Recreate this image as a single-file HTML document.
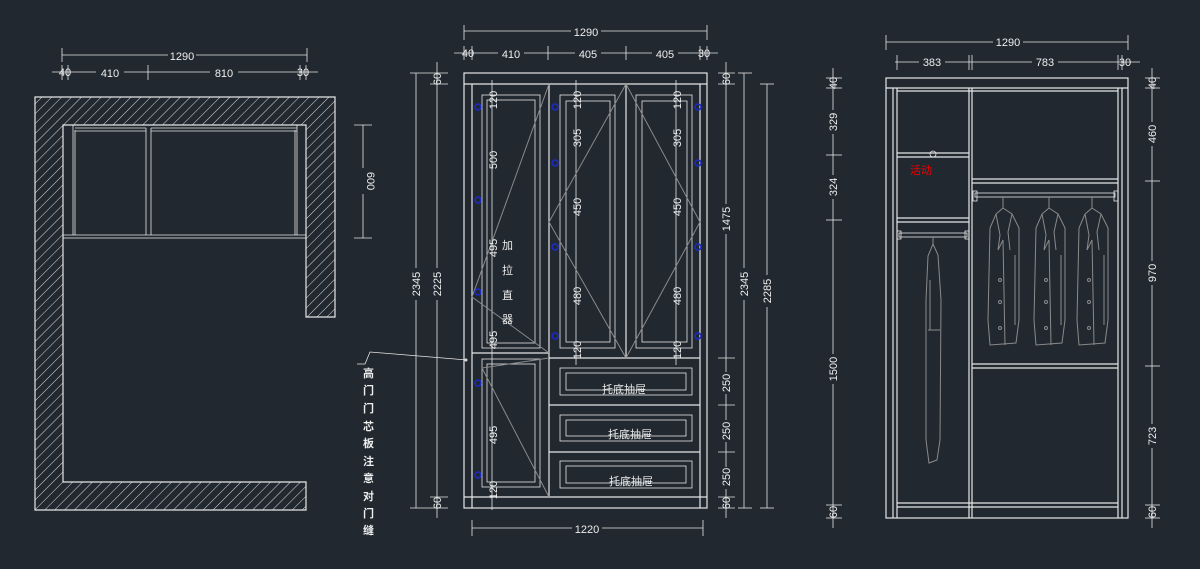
<!DOCTYPE html>
<html><head><meta charset="utf-8"><style>
html,body{margin:0;padding:0;background:#212830;}
svg{display:block}
text{font-family:"Liberation Sans","Noto Sans CJK SC",sans-serif;fill:#eee;font-size:11px}
.l{stroke:#e6e6e6;stroke-width:1.2;fill:none}
.t{stroke:#e6e6e6;stroke-width:0.8;fill:none}
.g{stroke:#8a8a8a;stroke-width:1;fill:none}
.b{stroke:#1a2bd0;stroke-width:1.5;fill:none}
</style></head><body>
<svg width="1200" height="569" viewBox="0 0 1200 569" xmlns="http://www.w3.org/2000/svg">
<defs>
<pattern id="h" width="7" height="7" patternUnits="userSpaceOnUse" patternTransform="rotate(45)">
<line x1="0" y1="0" x2="0" y2="7" stroke="#ddd" stroke-width="1"/></pattern>
</defs>
<rect width="1200" height="569" fill="#212830"/>

<!-- ===== LEFT PLAN ===== -->
<path d="M35 97H335V317H306V125H63V482H306V510H35Z" style="fill:url(#h);stroke:#e6e6e6;stroke-width:1.2"/>
<g class="t">
<rect x="63" y="125" width="243" height="113"/>
<line x1="63" y1="235" x2="306" y2="235"/>
<line x1="73" y1="125" x2="73" y2="235"/><line x1="75" y1="130" x2="75" y2="235"/>
<line x1="146" y1="128" x2="146" y2="235"/><line x1="151" y1="128" x2="151" y2="235"/>
<line x1="297" y1="125" x2="297" y2="235"/><line x1="295" y1="130" x2="295" y2="235"/>
<line x1="75" y1="128" x2="146" y2="128"/><line x1="75" y1="131" x2="146" y2="131"/>
<line x1="151" y1="128" x2="297" y2="128"/><line x1="151" y1="131" x2="297" y2="131"/>
</g>
<g class="t">
<line x1="62" y1="55" x2="307" y2="55"/><line x1="62" y1="48" x2="62" y2="62"/><line x1="307" y1="48" x2="307" y2="62"/>
<line x1="52" y1="72" x2="318" y2="72"/>
<line x1="62" y1="65" x2="62" y2="80"/><line x1="68" y1="65" x2="68" y2="80"/><line x1="148" y1="65" x2="148" y2="80"/>
<line x1="300" y1="65" x2="300" y2="80"/><line x1="306" y1="65" x2="306" y2="80"/>
<line x1="363" y1="125" x2="363" y2="238"/><line x1="354" y1="125" x2="372" y2="125"/><line x1="354" y1="238" x2="372" y2="238"/>
</g>
<g font-size="13">
<rect x="168" y="48" width="28" height="14" fill="#212830"/><text x="182" y="60" text-anchor="middle" font-size="13">1290</text>
<rect x="96" y="65" width="28" height="14" fill="#212830"/><text x="110" y="77" text-anchor="middle" font-size="13">410</text>
<rect x="210" y="65" width="28" height="14" fill="#212830"/><text x="224" y="77" text-anchor="middle" font-size="13">810</text>
</g>
<text x="65" y="76" text-anchor="middle" font-size="9">40</text><text x="303" y="76" text-anchor="middle" font-size="9">30</text>
<rect x="356" y="168" width="14" height="26" fill="#212830"/><text transform="translate(367,181) rotate(90)" text-anchor="middle" font-size="12">600</text>

<!-- leader -->
<polyline class="t" points="467,360 370,352 365,364 357,364"/>
<circle cx="466" cy="360" r="1.5" fill="#ddd"/>
<g font-size="11" font-weight="bold">
<text x="363" y="377">高</text><text x="363" y="394">门</text><text x="363" y="412">门</text><text x="363" y="430">芯</text><text x="363" y="447">板</text><text x="363" y="465">注</text><text x="363" y="482">意</text><text x="363" y="500">对</text><text x="363" y="517">门</text><text x="363" y="534">缝</text>
</g>

<!-- ===== MIDDLE ELEVATION ===== -->
<g class="l">
<rect x="464" y="73" width="243" height="435"/>
<line x1="464" y1="84" x2="707" y2="84"/>
<line x1="472" y1="84" x2="472" y2="508"/><line x1="700" y1="84" x2="700" y2="508"/>
<line x1="464" y1="497" x2="707" y2="497"/>
<line x1="549" y1="84" x2="549" y2="497"/>
<line x1="626" y1="84" x2="626" y2="358"/>
<line x1="472" y1="353" x2="549" y2="353"/>
<line x1="549" y1="358" x2="700" y2="358"/>
<line x1="549" y1="405" x2="700" y2="405"/>
<line x1="549" y1="452" x2="700" y2="452"/>
</g>
<g class="t">
<rect x="482" y="95" width="58" height="253"/><rect x="487" y="100" width="48" height="243"/>
<rect x="482" y="359" width="58" height="128"/><rect x="487" y="364" width="48" height="118"/>
<rect x="560" y="95" width="55" height="253"/><rect x="566" y="101" width="44" height="241"/>
<rect x="636" y="95" width="56" height="253"/><rect x="642" y="101" width="45" height="241"/>
<rect x="560" y="368" width="132" height="27"/><rect x="566" y="373" width="120" height="17"/>
<rect x="560" y="415" width="132" height="26"/><rect x="566" y="420" width="120" height="16"/>
<rect x="560" y="461" width="132" height="27"/><rect x="566" y="466" width="120" height="17"/>
<line x1="492" y1="80" x2="492" y2="510"/><line x1="576" y1="80" x2="576" y2="365"/><line x1="676" y1="80" x2="676" y2="365"/>
</g>
<g class="g">
<polyline points="549,84 472,297 549,353"/>
<polyline points="549,358 482,368 549,497"/>
<polyline points="626,84 549,222 626,358"/>
<polyline points="626,84 700,222 626,358"/>
</g>
<g class="b">
<circle cx="478" cy="107" r="3"/><circle cx="478" cy="200" r="3"/><circle cx="478" cy="292" r="3"/><circle cx="478" cy="383" r="3"/><circle cx="478" cy="475" r="3"/>
<circle cx="555" cy="107" r="3"/><circle cx="555" cy="163" r="3"/><circle cx="555" cy="247" r="3"/><circle cx="555" cy="336" r="3"/>
<circle cx="698" cy="107" r="3"/><circle cx="698" cy="163" r="3"/><circle cx="698" cy="247" r="3"/><circle cx="698" cy="336" r="3"/>
</g>
<g font-size="11">
<text transform="translate(497,100) rotate(-90)" text-anchor="middle">120</text>
<text transform="translate(497,160) rotate(-90)" text-anchor="middle">500</text>
<text transform="translate(497,248) rotate(-90)" text-anchor="middle">495</text>
<text transform="translate(497,340) rotate(-90)" text-anchor="middle">495</text>
<text transform="translate(497,435) rotate(-90)" text-anchor="middle">495</text>
<text transform="translate(497,490) rotate(-90)" text-anchor="middle">120</text>
<text transform="translate(581,100) rotate(-90)" text-anchor="middle">120</text>
<text transform="translate(581,138) rotate(-90)" text-anchor="middle">305</text>
<text transform="translate(581,207) rotate(-90)" text-anchor="middle">450</text>
<text transform="translate(581,296) rotate(-90)" text-anchor="middle">480</text>
<text transform="translate(581,350) rotate(-90)" text-anchor="middle">120</text>
<text transform="translate(681,100) rotate(-90)" text-anchor="middle">120</text>
<text transform="translate(681,138) rotate(-90)" text-anchor="middle">305</text>
<text transform="translate(681,207) rotate(-90)" text-anchor="middle">450</text>
<text transform="translate(681,296) rotate(-90)" text-anchor="middle">480</text>
<text transform="translate(681,350) rotate(-90)" text-anchor="middle">120</text>
</g>
<g font-size="17"><text x="502" y="249">加</text><text x="502" y="274">拉</text><text x="502" y="299">直</text><text x="502" y="323">器</text></g>
<g font-size="16" text-anchor="middle"><text x="624" y="393">托底抽屉</text><text x="630" y="438">托底抽屉</text><text x="631" y="485">托底抽屉</text></g>
<!-- middle dims -->
<g class="t">
<line x1="464" y1="31" x2="707" y2="31"/><line x1="464" y1="25" x2="464" y2="40"/><line x1="707" y1="25" x2="707" y2="40"/>
<line x1="454" y1="53" x2="718" y2="53"/>
<line x1="464" y1="46" x2="464" y2="60"/><line x1="472" y1="46" x2="472" y2="60"/><line x1="548" y1="46" x2="548" y2="60"/><line x1="626" y1="46" x2="626" y2="60"/><line x1="700" y1="46" x2="700" y2="60"/><line x1="707" y1="46" x2="707" y2="60"/>
<line x1="416" y1="73" x2="416" y2="508"/><line x1="410" y1="73" x2="448" y2="73"/><line x1="410" y1="508" x2="448" y2="508"/>
<line x1="437" y1="62" x2="437" y2="518"/><line x1="430" y1="84" x2="448" y2="84"/><line x1="430" y1="497" x2="448" y2="497"/>
<line x1="726" y1="62" x2="726" y2="518"/><line x1="718" y1="73" x2="735" y2="73"/><line x1="718" y1="84" x2="735" y2="84"/><line x1="718" y1="358" x2="735" y2="358"/><line x1="718" y1="405" x2="735" y2="405"/><line x1="718" y1="452" x2="735" y2="452"/><line x1="718" y1="497" x2="735" y2="497"/><line x1="718" y1="508" x2="735" y2="508"/>
<line x1="744" y1="73" x2="744" y2="508"/><line x1="738" y1="73" x2="752" y2="73"/><line x1="738" y1="508" x2="752" y2="508"/>
<line x1="767" y1="84" x2="767" y2="508"/><line x1="760" y1="84" x2="774" y2="84"/><line x1="760" y1="508" x2="774" y2="508"/>
<line x1="472" y1="528" x2="703" y2="528"/><line x1="472" y1="520" x2="472" y2="536"/><line x1="703" y1="520" x2="703" y2="536"/>
</g>
<g text-anchor="middle" font-size="12">
<rect x="571" y="25" width="30" height="13" fill="#212830"/><text x="586" y="36">1290</text>
<rect x="498" y="47" width="26" height="13" fill="#212830"/><text x="511" y="58">410</text>
<rect x="575" y="47" width="26" height="13" fill="#212830"/><text x="588" y="58">405</text>
<rect x="652" y="47" width="26" height="13" fill="#212830"/><text x="665" y="58">405</text>
<text x="468" y="57" font-size="9">40</text><text x="704" y="57" font-size="9">30</text>
<rect x="572" y="522" width="30" height="13" fill="#212830"/><text x="587" y="533">1220</text>
<rect x="409" y="268" width="14" height="32" fill="#212830"/><text transform="translate(420,284) rotate(-90)">2345</text>
<rect x="430" y="268" width="14" height="32" fill="#212830"/><text transform="translate(441,284) rotate(-90)">2225</text>
<text transform="translate(441,79) rotate(-90)" font-size="9">60</text><text transform="translate(441,503) rotate(-90)" font-size="9">60</text>
<rect x="719" y="204" width="14" height="30" fill="#212830"/><text transform="translate(730,219) rotate(-90)">1475</text>
<rect x="719" y="372" width="14" height="22" fill="#212830"/><text transform="translate(730,383) rotate(-90)">250</text>
<rect x="719" y="420" width="14" height="22" fill="#212830"/><text transform="translate(730,431) rotate(-90)">250</text>
<rect x="719" y="467" width="14" height="22" fill="#212830"/><text transform="translate(730,477) rotate(-90)">250</text>
<text transform="translate(730,79) rotate(-90)" font-size="9">60</text><text transform="translate(730,503) rotate(-90)" font-size="9">60</text>
<rect x="737" y="268" width="14" height="32" fill="#212830"/><text transform="translate(748,284) rotate(-90)">2345</text>
<rect x="760" y="275" width="14" height="32" fill="#212830"/><text transform="translate(771,291) rotate(-90)">2285</text>
</g>

<!-- ===== RIGHT ELEVATION ===== -->
<g class="l">
<rect x="886" y="78" width="242" height="440"/>
<line x1="886" y1="88" x2="1128" y2="88"/>
<line x1="893" y1="88" x2="893" y2="518"/><line x1="897" y1="88" x2="897" y2="518"/>
<line x1="1118" y1="88" x2="1118" y2="518"/><line x1="1122" y1="88" x2="1122" y2="518"/>
<line x1="969" y1="88" x2="969" y2="518"/><line x1="972" y1="88" x2="972" y2="518"/>
<line x1="897" y1="91" x2="1118" y2="91"/>
<line x1="897" y1="153" x2="969" y2="153"/><line x1="897" y1="157" x2="969" y2="157"/>
<line x1="897" y1="218" x2="969" y2="218"/><line x1="897" y1="222" x2="969" y2="222"/>
<line x1="972" y1="179" x2="1118" y2="179"/><line x1="972" y1="183" x2="1118" y2="183"/>
<line x1="972" y1="364" x2="1118" y2="364"/><line x1="972" y1="368" x2="1118" y2="368"/>
<line x1="897" y1="503" x2="1118" y2="503"/><line x1="897" y1="507" x2="1118" y2="507"/>
</g>
<g class="t">
<rect x="899" y="233" width="68" height="4"/><rect x="897" y="231" width="4" height="8"/><rect x="965" y="231" width="4" height="8"/>
<rect x="975" y="193" width="140" height="4"/><rect x="973" y="191" width="4" height="10"/><rect x="1114" y="191" width="4" height="10"/>
<circle cx="933" cy="154" r="3"/>
</g>
<text x="910" y="174" style="fill:#e00" font-size="12">活动</text>
<g class="g">
<path d="M933 237 L933 244 L928 256 L926 300 L926 440 L929 463 L937 460 L940 440 L941 300 L938 255 L933 244"/>
<line x1="928" y1="330" x2="940" y2="330"/><line x1="930" y1="280" x2="930" y2="330"/>
<g id="coat"><path d="M1003 197 L1003 208 L996 214 L990 228 L988 320 L990 345 L1016 343 L1019 320 L1019 228 L1012 214 L1003 208"/>
<path d="M996 214 L1000 235 L998 250 L1003 240 L1005 345"/><path d="M1012 214 L1008 232 L1010 250"/><line x1="1015" y1="255" x2="1015" y2="325"/>
<circle cx="1000" cy="280" r="1.5"/><circle cx="1000" cy="302" r="1.5"/><circle cx="1000" cy="328" r="1.5"/></g>
<use href="#coat" x="46"/><use href="#coat" x="89"/>
</g>
<!-- right dims -->
<g class="t">
<line x1="886" y1="42" x2="1128" y2="42"/><line x1="886" y1="35" x2="886" y2="50"/><line x1="1128" y1="35" x2="1128" y2="50"/>
<line x1="895" y1="62" x2="1140" y2="62"/>
<line x1="897" y1="55" x2="897" y2="70"/><line x1="969" y1="55" x2="969" y2="70"/><line x1="972" y1="55" x2="972" y2="70"/><line x1="1118" y1="55" x2="1118" y2="70"/><line x1="1122" y1="55" x2="1122" y2="70"/>
<line x1="833" y1="68" x2="833" y2="528"/>
<line x1="826" y1="78" x2="842" y2="78"/><line x1="826" y1="88" x2="842" y2="88"/><line x1="826" y1="155" x2="842" y2="155"/><line x1="826" y1="220" x2="842" y2="220"/><line x1="826" y1="505" x2="842" y2="505"/><line x1="826" y1="518" x2="842" y2="518"/>
<line x1="1152" y1="68" x2="1152" y2="528"/>
<line x1="1145" y1="78" x2="1160" y2="78"/><line x1="1145" y1="88" x2="1160" y2="88"/><line x1="1145" y1="181" x2="1160" y2="181"/><line x1="1145" y1="366" x2="1160" y2="366"/><line x1="1145" y1="505" x2="1160" y2="505"/><line x1="1145" y1="518" x2="1160" y2="518"/>
</g>
<g text-anchor="middle" font-size="12">
<rect x="993" y="36" width="30" height="13" fill="#212830"/><text x="1008" y="46">1290</text>
<rect x="919" y="56" width="26" height="13" fill="#212830"/><text x="932" y="66">383</text>
<rect x="1032" y="56" width="26" height="13" fill="#212830"/><text x="1045" y="66">783</text>
<text x="1125" y="66" font-size="9">30</text>
<rect x="826" y="110" width="14" height="24" fill="#212830"/><text transform="translate(837,122) rotate(-90)">329</text>
<rect x="826" y="175" width="14" height="24" fill="#212830"/><text transform="translate(837,187) rotate(-90)">324</text>
<rect x="826" y="354" width="14" height="30" fill="#212830"/><text transform="translate(837,369) rotate(-90)">1500</text>
<text transform="translate(837,83) rotate(-90)" font-size="9">40</text><text transform="translate(837,512) rotate(-90)" font-size="9">60</text>
<rect x="1145" y="122" width="14" height="24" fill="#212830"/><text transform="translate(1156,134) rotate(-90)">460</text>
<rect x="1145" y="261" width="14" height="24" fill="#212830"/><text transform="translate(1156,273) rotate(-90)">970</text>
<rect x="1145" y="424" width="14" height="24" fill="#212830"/><text transform="translate(1156,436) rotate(-90)">723</text>
<text transform="translate(1156,83) rotate(-90)" font-size="9">40</text><text transform="translate(1156,512) rotate(-90)" font-size="9">60</text>
</g>
</svg>
</body></html>
